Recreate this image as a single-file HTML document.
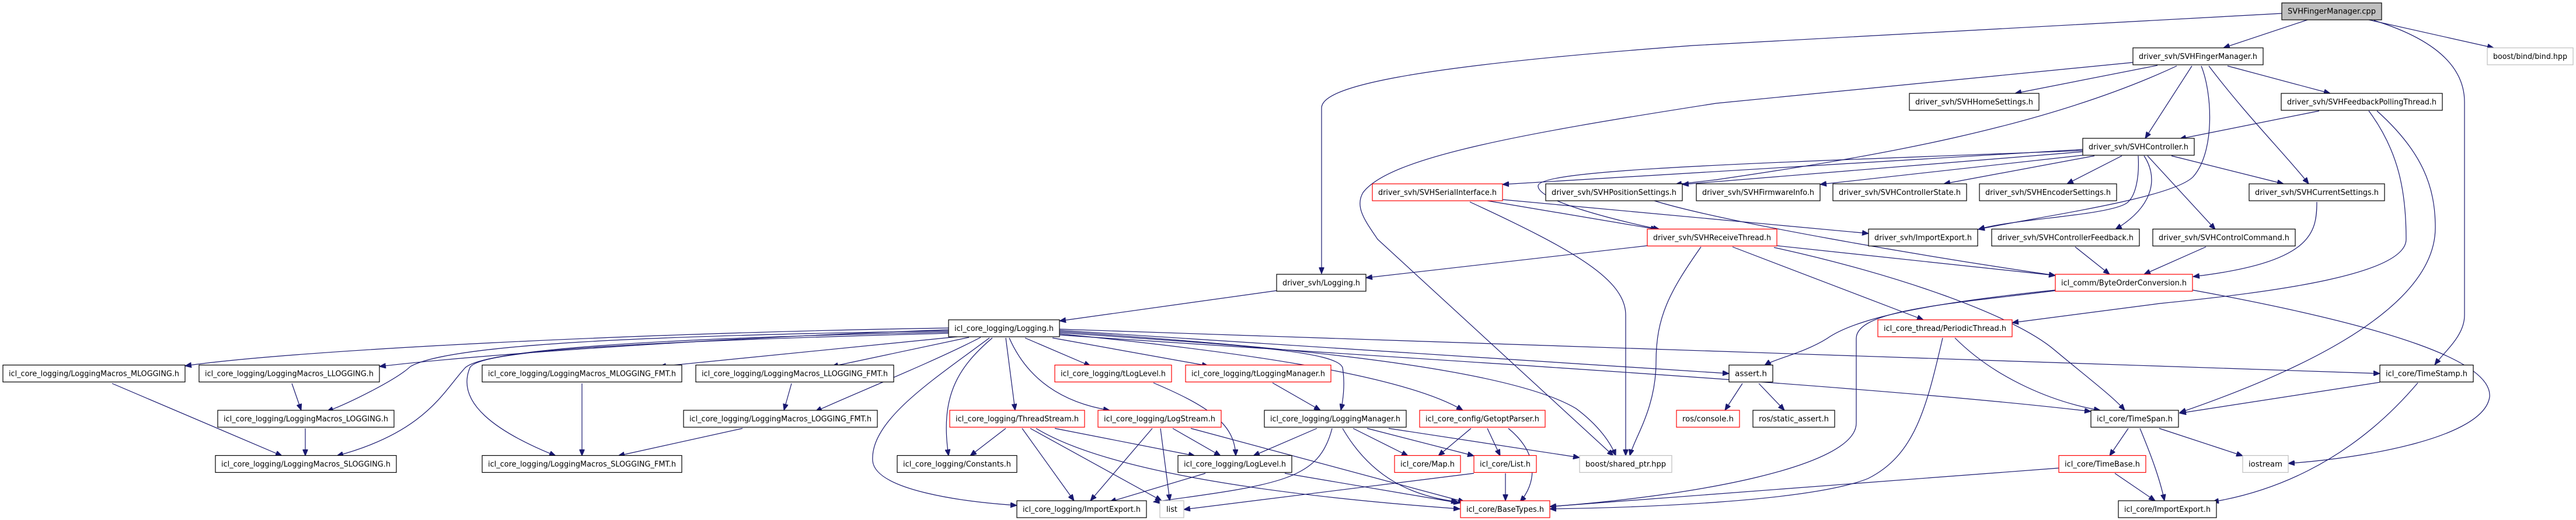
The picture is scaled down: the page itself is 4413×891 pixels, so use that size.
<!DOCTYPE html>
<html><head><meta charset="utf-8"><style>
html,body{margin:0;padding:0;background:#fff}
svg{display:block}
text{font-family:"DejaVu Sans","Liberation Sans",sans-serif;font-size:13px;fill:#000}
.e{fill:none;stroke:#191970;stroke-width:1.2}
</style></head><body>
<svg width="4413" height="891" viewBox="0 0 4413 891" xmlns="http://www.w3.org/2000/svg">
<defs><marker id="a" markerUnits="userSpaceOnUse" markerWidth="12" markerHeight="9" refX="11" refY="4.5" orient="auto"><path d="M0,0 L11,4.5 L0,9 z" fill="#191970" stroke="#191970"/></marker></defs>
<g class="e" marker-end="url(#a)">
<!-- cpp -->
<path d="M3909,23 L2900,78 C2400,115 2264,150 2264,185 L2264,469"/>
<path d="M3953,34 L3809,82"/>
<path d="M4058,34 L4272,82"/>
<path d="M4067,35 C4180,70 4222,120 4222,175 L4222,540 C4222,575 4190,600 4171,625"/>
<!-- FingerManager.h -->
<path d="M3654,107 L2940,177 C2600,230 2380,270 2335,330 C2320,355 2340,380 2360,410 L2764,781"/>
<path d="M3696,112 L3452,160"/>
<path d="M3729,113 C3500,220 3200,270 2940,308 L2870,316"/>
<path d="M3755,113 L3675,237"/>
<path d="M3771,113 C3790,160 3795,260 3757,303 C3720,340 3500,370 3389,393"/>
<path d="M3784,113 C3850,200 3920,270 3955,315"/>
<path d="M3816,113 L3992,160"/>
<!-- FeedbackPollingThread -->
<path d="M3973,190 L3734,238"/>
<path d="M4058,190 C4110,260 4122,330 4122,410 C4122,470 3900,500 3700,520 L3447,553"/>
<path d="M4072,190 C4150,260 4172,320 4172,390 C4172,540 3900,650 3734,707"/>
<!-- Controller -->
<path d="M3568,256 L2574,316"/>
<path d="M3568,260 L2882,316"/>
<path d="M3568,266 L3118,316"/>
<path d="M3588,267 L3330,315"/>
<path d="M3635,267 L3541,315"/>
<path d="M3720,267 L3912,315"/>
<path d="M3679,267 L3795,393"/>
<path d="M3673,267 C3695,300 3695,350 3624,393"/>
<path d="M3663,267 C3665,300 3660,340 3640,350 C3600,370 3450,375 3389,393"/>
<path d="M3568,258 C3000,280 2640,290 2635,318 C2632,345 2780,380 2843,393"/>
<!-- position settings, serial -->
<path d="M2834,344 C2950,380 3300,440 3521,472"/>
<path d="M2548,344 L2839,393"/>
<path d="M2518,346 C2700,430 2785,480 2785,540 L2785,781"/>
<path d="M2574,342 L3201,400"/>
<!-- ReceiveThread -->
<path d="M2822,421 L2340,476"/>
<path d="M2914,423 C2860,500 2837,543 2837,620 C2837,700 2800,750 2792,781"/>
<path d="M3044,421 L3521,472"/>
<path d="M2968,423 L3295,548"/>
<path d="M3039,424 C3250,470 3450,540 3520,600 C3580,650 3620,680 3640,703"/>
<!-- Logging.h driver -->
<path d="M2187,498 L1815,550"/>
<!-- ByteOrder -->
<path d="M3521,497 C3300,520 3180,545 3130,580 C3090,605 3040,615 3023,626"/>
<path d="M3521,498 C3350,520 3180,530 3180,580 L3180,725 C3180,800 2900,850 2655,868"/>
<path d="M3756,497 C4100,560 4270,620 4265,680 C4255,750 4050,785 3920,794"/>
<path d="M3555,423 L3614,470"/>
<path d="M3779,423 L3673,470"/>
<path d="M3969,346 C3969,400 3960,450 3757,474"/>
<!-- PeriodicThread -->
<path d="M3349,579 C3420,650 3520,690 3598,703"/>
<path d="M3328,579 C3300,700 3280,780 3200,820 C3100,860 2800,870 2655,872"/>
<!-- TimeStamp -->
<path d="M4077,655 L3734,708"/>
<path d="M4142,656 C4020,800 3880,845 3790,860"/>
<!-- TimeSpan -->
<path d="M3646,734 L3614,781"/>
<path d="M3666,734 C3685,780 3700,820 3708,858"/>
<path d="M3699,734 L3842,781"/>
<!-- TimeBase -->
<path d="M3623,811 L3692,858"/>
<path d="M3527,802 L2655,868"/>
<!-- assert -->
<path d="M2985,657 L2955,703"/>
<path d="M3013,657 L3057,703"/>
<!-- icl_core_logging/Logging.h -->
<path d="M1625,562 C1100,570 500,600 317,627"/>
<path d="M1625,565 C1200,580 800,610 650,628"/>
<path d="M1625,567 C1100,575 770,590 703,628 C680,650 600,690 560,705"/>
<path d="M1625,569 C1100,580 830,600 797,630 C760,670 730,740 577,781"/>
<path d="M1625,571 C1100,585 820,600 805,630 C780,690 850,740 952,781"/>
<path d="M1640,577 L1130,628"/>
<path d="M1660,578 L1425,628"/>
<path d="M1680,578 C1600,620 1450,680 1397,705"/>
<path d="M1756,579 L1868,627"/>
<path d="M1803,579 L2070,627"/>
<path d="M1723,579 L1739,703"/>
<path d="M1729,579 C1760,650 1820,690 1901,703"/>
<path d="M1815,570 C2100,590 2290,600 2300,630 C2305,660 2300,690 2297,703"/>
<path d="M1815,572 C2100,600 2400,640 2506,703"/>
<path d="M1700,579 C1640,630 1610,680 1625,781"/>
<path d="M1695,579 C1600,650 1490,720 1495,790 C1500,840 1650,860 1742,866"/>
<path d="M1815,568 C2300,600 2600,640 2700,700 C2740,730 2760,760 2768,781"/>
<path d="M1815,566 L2962,640"/>
<path d="M1815,574 C2500,620 3200,660 3582,705"/>
<path d="M1815,564 L4077,640"/>
<!-- lower logging -->
<path d="M192,657 L483,781"/>
<path d="M500,657 L516,703"/>
<path d="M523,734 L523,781"/>
<path d="M997,657 L997,781"/>
<path d="M1356,657 L1343,703"/>
<path d="M1272,734 L1059,781"/>
<path d="M1976,656 C2080,700 2115,730 2117,781"/>
<path d="M2180,656 L2262,703"/>
<path d="M1723,734 L1662,781"/>
<path d="M1751,734 L1840,858"/>
<path d="M1765,734 L1990,858"/>
<path d="M1807,734 L2047,781"/>
<path d="M1775,734 C1900,810 2200,850 2501,872"/>
<path d="M2009,734 L2091,781"/>
<path d="M1974,734 L1868,858"/>
<path d="M1988,734 L2004,858"/>
<path d="M2040,734 L2509,860"/>
<path d="M2256,734 L2147,781"/>
<path d="M2282,734 C2260,820 2200,830 1976,860"/>
<path d="M2318,734 L2412,781"/>
<path d="M2342,734 L2525,781"/>
<path d="M2300,734 C2350,820 2420,850 2497,860"/>
<path d="M2379,734 L2706,784"/>
<path d="M2520,734 L2464,781"/>
<path d="M2548,734 L2570,781"/>
<path d="M2584,734 C2640,780 2630,830 2604,860"/>
<path d="M2579,811 L2579,858"/>
<path d="M2525,811 L2028,873"/>
<path d="M2065,811 L1901,860"/>
<path d="M2201,811 L2501,862"/>
</g>
<g stroke-width="1.2">
<!-- rows: centers 19,96.6,174.2,251.8,329.4,407,484.6,562.2,639.8,717.4,795,872.6 -->
<rect x="3909" y="5" width="171" height="29" fill="#bfbfbf" stroke="#000"/><text x="3994.5" y="23.5" text-anchor="middle" textLength="151" lengthAdjust="spacingAndGlyphs">SVHFingerManager.cpp</text>
<rect x="3654" y="82" width="223" height="29" fill="#fff" stroke="#000"/><text x="3765.5" y="101" text-anchor="middle" textLength="203" lengthAdjust="spacingAndGlyphs">driver_svh/SVHFingerManager.h</text>
<rect x="4261" y="82" width="147" height="29" fill="#fff" stroke="#bfbfbf"/><text x="4334.5" y="101" text-anchor="middle" textLength="127" lengthAdjust="spacingAndGlyphs">boost/bind/bind.hpp</text>
<rect x="3271" y="160" width="222" height="29" fill="#fff" stroke="#000"/><text x="3382" y="179" text-anchor="middle" textLength="202" lengthAdjust="spacingAndGlyphs">driver_svh/SVHHomeSettings.h</text>
<rect x="3908" y="160" width="276" height="29" fill="#fff" stroke="#000"/><text x="4046" y="179" text-anchor="middle" textLength="256" lengthAdjust="spacingAndGlyphs">driver_svh/SVHFeedbackPollingThread.h</text>
<rect x="3568" y="237" width="191" height="29" fill="#fff" stroke="#000"/><text x="3663.5" y="256" text-anchor="middle" textLength="171" lengthAdjust="spacingAndGlyphs">driver_svh/SVHController.h</text>
<rect x="2351" y="315" width="223" height="29" fill="#fff" stroke="#f00"/><text x="2462.5" y="334" text-anchor="middle" textLength="203" lengthAdjust="spacingAndGlyphs">driver_svh/SVHSerialInterface.h</text>
<rect x="2648" y="315" width="234" height="29" fill="#fff" stroke="#000"/><text x="2765" y="334" text-anchor="middle" textLength="214" lengthAdjust="spacingAndGlyphs">driver_svh/SVHPositionSettings.h</text>
<rect x="2906" y="315" width="212" height="29" fill="#fff" stroke="#000"/><text x="3012" y="334" text-anchor="middle" textLength="192" lengthAdjust="spacingAndGlyphs">driver_svh/SVHFirmwareInfo.h</text>
<rect x="3140" y="315" width="229" height="29" fill="#fff" stroke="#000"/><text x="3254.5" y="334" text-anchor="middle" textLength="209" lengthAdjust="spacingAndGlyphs">driver_svh/SVHControllerState.h</text>
<rect x="3391" y="315" width="235" height="29" fill="#fff" stroke="#000"/><text x="3508.5" y="334" text-anchor="middle" textLength="215" lengthAdjust="spacingAndGlyphs">driver_svh/SVHEncoderSettings.h</text>
<rect x="3853" y="315" width="232" height="29" fill="#fff" stroke="#000"/><text x="3969" y="334" text-anchor="middle" textLength="212" lengthAdjust="spacingAndGlyphs">driver_svh/SVHCurrentSettings.h</text>
<rect x="2822" y="392.5" width="222" height="29" fill="#fff" stroke="#f00"/><text x="2933" y="411.5" text-anchor="middle" textLength="202" lengthAdjust="spacingAndGlyphs">driver_svh/SVHReceiveThread.h</text>
<rect x="3201" y="392.5" width="187" height="29" fill="#fff" stroke="#000"/><text x="3294.5" y="411.5" text-anchor="middle" textLength="167" lengthAdjust="spacingAndGlyphs">driver_svh/ImportExport.h</text>
<rect x="3412" y="392.5" width="253" height="29" fill="#fff" stroke="#000"/><text x="3538.5" y="411.5" text-anchor="middle" textLength="233" lengthAdjust="spacingAndGlyphs">driver_svh/SVHControllerFeedback.h</text>
<rect x="3688" y="392.5" width="244" height="29" fill="#fff" stroke="#000"/><text x="3810" y="411.5" text-anchor="middle" textLength="224" lengthAdjust="spacingAndGlyphs">driver_svh/SVHControlCommand.h</text>
<rect x="2187" y="470" width="153" height="29" fill="#fff" stroke="#000"/><text x="2263.5" y="489" text-anchor="middle" textLength="133" lengthAdjust="spacingAndGlyphs">driver_svh/Logging.h</text>
<rect x="3521" y="470" width="235" height="29" fill="#fff" stroke="#f00"/><text x="3638.5" y="489" text-anchor="middle" textLength="215" lengthAdjust="spacingAndGlyphs">icl_comm/ByteOrderConversion.h</text>
<rect x="1625" y="548" width="190" height="29" fill="#fff" stroke="#000"/><text x="1720" y="567" text-anchor="middle" textLength="170" lengthAdjust="spacingAndGlyphs">icl_core_logging/Logging.h</text>
<rect x="3217" y="548" width="230" height="29" fill="#fff" stroke="#f00"/><text x="3332" y="567" text-anchor="middle" textLength="210" lengthAdjust="spacingAndGlyphs">icl_core_thread/PeriodicThread.h</text>
<rect x="5" y="625.5" width="312" height="29" fill="#fff" stroke="#000"/><text x="161" y="644.5" text-anchor="middle" textLength="292" lengthAdjust="spacingAndGlyphs">icl_core_logging/LoggingMacros_MLOGGING.h</text>
<rect x="341" y="625.5" width="309" height="29" fill="#fff" stroke="#000"/><text x="495.5" y="644.5" text-anchor="middle" textLength="289" lengthAdjust="spacingAndGlyphs">icl_core_logging/LoggingMacros_LLOGGING.h</text>
<rect x="826" y="625.5" width="342" height="29" fill="#fff" stroke="#000"/><text x="997" y="644.5" text-anchor="middle" textLength="322" lengthAdjust="spacingAndGlyphs">icl_core_logging/LoggingMacros_MLOGGING_FMT.h</text>
<rect x="1192" y="625.5" width="339" height="29" fill="#fff" stroke="#000"/><text x="1361.5" y="644.5" text-anchor="middle" textLength="319" lengthAdjust="spacingAndGlyphs">icl_core_logging/LoggingMacros_LLOGGING_FMT.h</text>
<rect x="1807" y="625.5" width="200" height="29" fill="#fff" stroke="#f00"/><text x="1907" y="644.5" text-anchor="middle" textLength="180" lengthAdjust="spacingAndGlyphs">icl_core_logging/tLogLevel.h</text>
<rect x="2031" y="625.5" width="249" height="29" fill="#fff" stroke="#f00"/><text x="2155.5" y="644.5" text-anchor="middle" textLength="229" lengthAdjust="spacingAndGlyphs">icl_core_logging/tLoggingManager.h</text>
<rect x="2962" y="625.5" width="75" height="29" fill="#fff" stroke="#000"/><text x="2999.5" y="644.5" text-anchor="middle" textLength="55" lengthAdjust="spacingAndGlyphs">assert.h</text>
<rect x="4077" y="625.5" width="160" height="29" fill="#fff" stroke="#000"/><text x="4157" y="644.5" text-anchor="middle" textLength="140" lengthAdjust="spacingAndGlyphs">icl_core/TimeStamp.h</text>
<rect x="373" y="703" width="302" height="29" fill="#fff" stroke="#000"/><text x="524" y="722" text-anchor="middle" textLength="282" lengthAdjust="spacingAndGlyphs">icl_core_logging/LoggingMacros_LOGGING.h</text>
<rect x="1171" y="703" width="332" height="29" fill="#fff" stroke="#000"/><text x="1337" y="722" text-anchor="middle" textLength="312" lengthAdjust="spacingAndGlyphs">icl_core_logging/LoggingMacros_LOGGING_FMT.h</text>
<rect x="1627" y="703" width="231" height="29" fill="#fff" stroke="#f00"/><text x="1742.5" y="722" text-anchor="middle" textLength="211" lengthAdjust="spacingAndGlyphs">icl_core_logging/ThreadStream.h</text>
<rect x="1881" y="703" width="211" height="29" fill="#fff" stroke="#f00"/><text x="1986.5" y="722" text-anchor="middle" textLength="191" lengthAdjust="spacingAndGlyphs">icl_core_logging/LogStream.h</text>
<rect x="2166" y="703" width="243" height="29" fill="#fff" stroke="#000"/><text x="2287.5" y="722" text-anchor="middle" textLength="223" lengthAdjust="spacingAndGlyphs">icl_core_logging/LoggingManager.h</text>
<rect x="2432" y="703" width="215" height="29" fill="#fff" stroke="#f00"/><text x="2539.5" y="722" text-anchor="middle" textLength="195" lengthAdjust="spacingAndGlyphs">icl_core_config/GetoptParser.h</text>
<rect x="2872" y="703" width="108" height="29" fill="#fff" stroke="#f00"/><text x="2926" y="722" text-anchor="middle" textLength="88" lengthAdjust="spacingAndGlyphs">ros/console.h</text>
<rect x="3003" y="703" width="140" height="29" fill="#fff" stroke="#000"/><text x="3073" y="722" text-anchor="middle" textLength="120" lengthAdjust="spacingAndGlyphs">ros/static_assert.h</text>
<rect x="3582" y="703" width="150" height="29" fill="#fff" stroke="#000"/><text x="3657" y="722" text-anchor="middle" textLength="130" lengthAdjust="spacingAndGlyphs">icl_core/TimeSpan.h</text>
<rect x="369" y="780.5" width="310" height="29" fill="#fff" stroke="#000"/><text x="524" y="799.5" text-anchor="middle" textLength="290" lengthAdjust="spacingAndGlyphs">icl_core_logging/LoggingMacros_SLOGGING.h</text>
<rect x="826" y="780.5" width="342" height="29" fill="#fff" stroke="#000"/><text x="997" y="799.5" text-anchor="middle" textLength="322" lengthAdjust="spacingAndGlyphs">icl_core_logging/LoggingMacros_SLOGGING_FMT.h</text>
<rect x="1537" y="780.5" width="205" height="29" fill="#fff" stroke="#000"/><text x="1639.5" y="799.5" text-anchor="middle" textLength="185" lengthAdjust="spacingAndGlyphs">icl_core_logging/Constants.h</text>
<rect x="2018" y="780.5" width="195" height="29" fill="#fff" stroke="#000"/><text x="2115.5" y="799.5" text-anchor="middle" textLength="175" lengthAdjust="spacingAndGlyphs">icl_core_logging/LogLevel.h</text>
<rect x="2389" y="780.5" width="113" height="29" fill="#fff" stroke="#f00"/><text x="2445.5" y="799.5" text-anchor="middle" textLength="93" lengthAdjust="spacingAndGlyphs">icl_core/Map.h</text>
<rect x="2525" y="780.5" width="107" height="29" fill="#fff" stroke="#f00"/><text x="2578.5" y="799.5" text-anchor="middle" textLength="87" lengthAdjust="spacingAndGlyphs">icl_core/List.h</text>
<rect x="2706" y="780.5" width="158" height="29" fill="#fff" stroke="#bfbfbf"/><text x="2785" y="799.5" text-anchor="middle" textLength="138" lengthAdjust="spacingAndGlyphs">boost/shared_ptr.hpp</text>
<rect x="3527" y="780.5" width="149" height="29" fill="#fff" stroke="#f00"/><text x="3601.5" y="799.5" text-anchor="middle" textLength="129" lengthAdjust="spacingAndGlyphs">icl_core/TimeBase.h</text>
<rect x="3842" y="780.5" width="78" height="29" fill="#fff" stroke="#bfbfbf"/><text x="3881" y="799.5" text-anchor="middle" textLength="58" lengthAdjust="spacingAndGlyphs">iostream</text>
<rect x="1742" y="858" width="222" height="29" fill="#fff" stroke="#000"/><text x="1853" y="877" text-anchor="middle" textLength="202" lengthAdjust="spacingAndGlyphs">icl_core_logging/ImportExport.h</text>
<rect x="1987" y="858" width="41" height="29" fill="#fff" stroke="#bfbfbf"/><text x="2007.5" y="877" text-anchor="middle" textLength="19" lengthAdjust="spacingAndGlyphs">list</text>
<rect x="2502" y="858" width="153" height="29" fill="#fff" stroke="#f00"/><text x="2578.5" y="877" text-anchor="middle" textLength="133" lengthAdjust="spacingAndGlyphs">icl_core/BaseTypes.h</text>
<rect x="3629" y="858" width="168" height="29" fill="#fff" stroke="#000"/><text x="3713" y="877" text-anchor="middle" textLength="148" lengthAdjust="spacingAndGlyphs">icl_core/ImportExport.h</text>
</g>
</svg>
</body></html>
